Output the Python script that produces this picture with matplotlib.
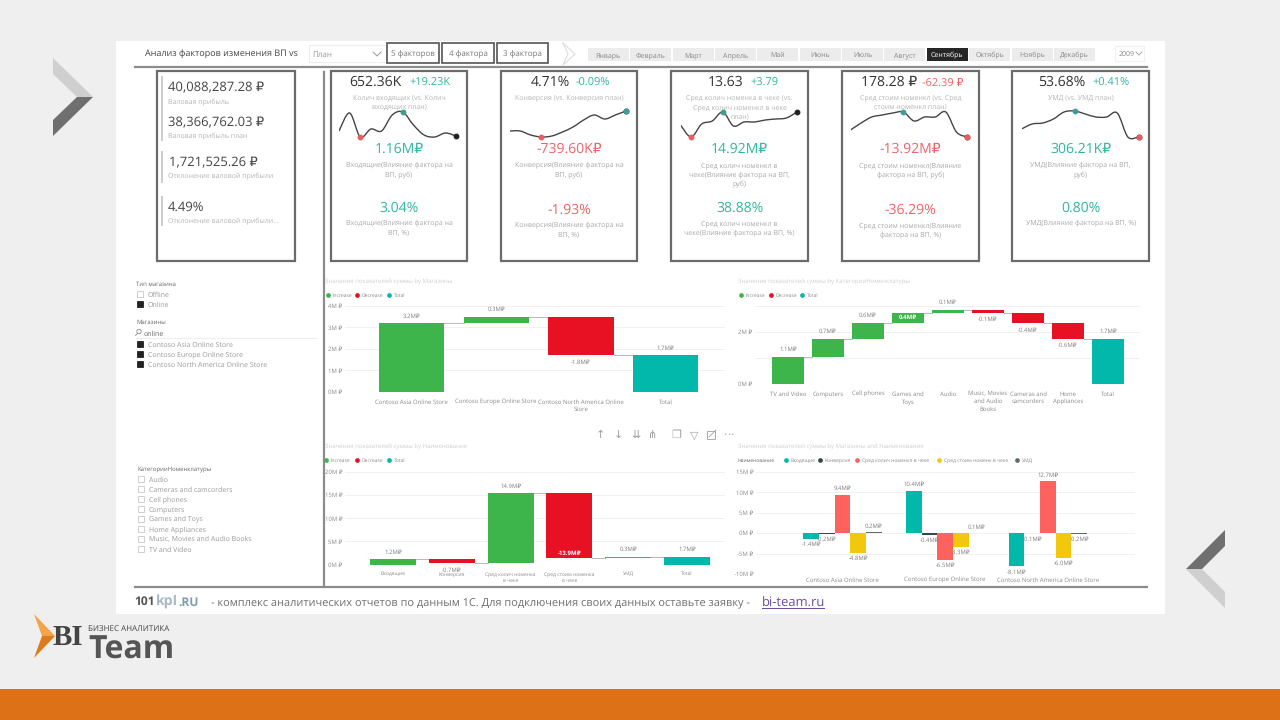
import matplotlib
matplotlib.use("Agg")
import matplotlib.pyplot as plt
from matplotlib.patches import Rectangle, Polygon, PathPatch
from matplotlib.path import Path

plt.rcParams['font.family'] = ['Open Sans', 'DejaVu Sans']
plt.rcParams['text.hinting'] = 'none'
plt.rcParams['text.hinting_factor'] = 1

# --- data ---
months = ["Январь", "Февраль", "Март", "Апрель", "Май", "Июнь", "Июль", "Август",
          "Сентябрь", "Октябрь", "Ноябрь", "Декабрь"]

store_cats = ["Contoso Asia Online Store", "Contoso Europe Online Store",
              "Contoso North America Online\nStore", "Total"]
store_vals = [3.2, 0.29, -1.78, 1.71]
store_labels = ["3.2M₽", "0.3M₽", "-1.8M₽", "1.7M₽"]

cat_cats = ["TV and Video", "Computers", "Cell phones", "Games and\nToys", "Audio",
            "Music, Movies\nand Audio\nBooks", "Cameras and\ncamcorders", "Home\nAppliances", "Total"]
cat_vals = [1.05, 0.7, 0.6, 0.4, 0.1, -0.1, -0.4, -0.6, 1.75]
cat_labels = ["1.1M₽", "0.7M₽", "0.6M₽", "0.4M₽", "0.1M₽", "-0.1M₽", "-0.4M₽", "-0.6M₽", "1.7M₽"]

factor_cats = ["Входящие", "Конверсия", "Сред колич номенка\nв чеке", "Сред стоим номенка\nв чеке", "УМД", "Total"]
factor_vals = [1.16, -0.74, 14.92, -13.92, 0.31, 1.72]
factor_labels = ["1.2M₽", "-0.7M₽", "14.9M₽", "-13.9M₽", "0.3M₽", "1.7M₽"]

group_cats = ["Contoso Asia Online Store", "Contoso Europe Online Store", "Contoso North America Online Store"]
group_names = ["Входящие", "Конверсия", "Сред колич номенкл в чеке", "Сред стоим номенк в чеке", "УМД"]
group_vals = [[-1.4, 10.4, -8.1], [-0.2, -0.4, -0.1], [9.4, -6.5, 12.7], [-4.8, -3.3, -6.0], [0.2, 0.1, -0.2]]
group_labels = [["-1.4M₽", "10.4M₽", "-8.1M₽"], ["-0.2M₽", "-0.4M₽", "-0.1M₽"], ["9.4M₽", "-6.5M₽", "12.7M₽"],
                ["-4.8M₽", "-3.3M₽", "-6.0M₽"], ["0.2M₽", "0.1M₽", "-0.2M₽"]]

spark_1 = [14, 32, 8, 16, 14, 30, 33, 20, 10, 8, 12, 9]
spark_2 = [14, 14, 10, 8, 9, 13, 18, 25, 30, 26, 30, 34]
spark_3 = [20, 8, 21, 24, 33, 19, 23, 23, 25, 26, 27, 33]
spark_4 = [15, 22, 28, 30, 32, 33, 24, 28, 28, 33, 13, 8]
spark_5 = [16, 21, 22, 26, 33, 34, 31, 28, 28, 32, 8, 8]

kpi_main = ["652.36K", "4.71%", "13.63", "178.28 ₽", "53.68%"]
kpi_delta = ["+19.23K", "-0.09%", "+3.79", "-62.39 ₽", "+0.41%"]
kpi_rub = ["1.16M₽", "-739.60K₽", "14.92M₽", "-13.92M₽", "306.21K₽"]
kpi_pct = ["3.04%", "-1.93%", "38.88%", "-36.29%", "0.80%"]

GREEN, RED, TEAL = "#3db54a", "#e81123", "#01b8aa"
GROUP_COLORS = ["#01b8aa", "#374649", "#fd625e", "#f2c80f", "#5f6b6d"]
KPI_UP, KPI_DOWN = "#2fb5a2", "#ef6268"
GREY = "#a9a9a9"
LAB = "#7f7f7f"
CHART_FS = 4.0
LEGEND_FS = 3.7

W, H = 1280, 720
fig = plt.figure(figsize=(W / 100, H / 100), dpi=100, facecolor="#efefef")
bg = fig.add_axes([0, 0, 1, 1])
bg.set_xlim(0, W)
bg.set_ylim(H, 0)
bg.axis("off")


def t(x, y, s, size=6, color=GREY, ha="left", **kw):
    # small nudge so the glyphs sit on the y asked for
    return bg.text(x, y + size * 0.14, s, fontsize=size, color=color, ha=ha, va="center", **kw)


def box(x0, y0, x1, y1, fc="none", ec="none", lw=1.0, z=1):
    bg.add_patch(Rectangle((x0, y0), x1 - x0, y1 - y0, fc=fc, ec=ec, lw=lw, zorder=z))


def px_axes(left, right, top, bottom):
    ax = fig.add_axes([left / W, 1 - bottom / H, (right - left) / W, (bottom - top) / H])
    ax.patch.set_alpha(0)
    for s in ax.spines.values():
        s.set_visible(False)
    return ax


# page furniture
box(116, 41, 1165, 614, fc="white", z=0)
box(0, 689, W, H, fc="#dc7118", z=0)
bg.add_patch(Polygon([(53, 58), (93, 97), (77, 97), (53, 74)], fc="#cfcfcf", ec="none"))
bg.add_patch(Polygon([(93, 97), (53, 136), (53, 120), (77, 97)], fc="#6f6f6f", ec="none"))
bg.add_patch(Polygon([(1225, 530), (1186, 569), (1202, 569), (1225, 546)], fc="#6f6f6f", ec="none"))
bg.add_patch(Polygon([(1186, 569), (1225, 608), (1225, 592), (1202, 569)], fc="#cfcfcf", ec="none"))

# header
bg.plot([135, 1147], [66.7, 66.7], color="#8c8c8c", lw=1.6)
bg.plot([135, 1147], [587, 587], color="#8c8c8c", lw=1.6)
bg.plot([324, 324], [72, 585], color="#8c8c8c", lw=1.6)
t(145, 54, "Анализ факторов изменения ВП vs", 6.4, "#444444")
box(309, 45, 386, 62, ec="#eeeeee", lw=0.8)
t(312, 54, "План", 5.6, "#999999")
bg.plot([373, 377, 381], [52, 56, 52], color="#999999", lw=0.7)
for (x0, x1), s in zip([(387, 439), (442, 494), (497, 548)], ["5 факторов", "4 фактора", "3 фактора"]):
    box(x0, 43, x1, 63, ec="#555555", lw=1.2)
    t((x0 + x1) / 2, 53.5, s, 5.6, "#777777", "center")
bg.plot([563, 575, 563, 568, 563], [43, 54, 65, 54, 43], color="#dddddd", lw=0.8)
for i, m in enumerate(months):
    x0 = 588 + i * 42.35
    on = m == "Сентябрь"
    box(x0, 48, x0 + 41, 61, fc="#262626" if on else "#ececec")
    t(x0 + 20.5, 54.5, m, 5, "white" if on else "#888888", "center")
box(1115, 46, 1144, 61, ec="#f0f0f0", lw=0.8)
t(1119, 53.5, "2009", 5, "#888888")
bg.plot([1136, 1139, 1142], [52, 55, 52], color="#999999", lw=0.6)

# left KPI card
box(157, 70.7, 295, 261, ec="#6b6b6b", lw=1.6)
for y0, y1 in [(77, 140), (152, 182), (197, 225)]:
    bg.plot([162, 162], [y0, y1], color="#cccccc", lw=1.4)
for x, y, s, size, c in [(168, 87, "40,088,287.28 ₽", 9.4, "#444444"), (168, 102, "Валовая прибыль", 5.4, "#b5b5b5"),
                         (168, 122, "38,366,762.03 ₽", 9.4, "#444444"), (168, 136, "Валовая прибыль план", 5.4, "#b5b5b5"),
                         (169, 162, "1,721,525.26 ₽", 9.4, "#444444"), (168, 176, "Отклонение валовой прибыли", 5.4, "#b5b5b5"),
                         (168, 206, "4.49%", 9.4, "#444444"), (168, 221, "Отклонение валовой прибыли...", 5.4, "#b5b5b5")]:
    t(x, y, s, size, c)

# KPI cards with sparklines
cards = [(330.7, 467.3), (500.7, 637.3), (671.3, 808), (842, 978.7), (1012.3, 1149)]
main_x = [349, 531, 708, 861, 1038]
delta_x = [409, 576, 750, 922, 1092]
top_text = [["Колич входящих (vs. Колич", "входящих план)"], ["Конверсия (vs. Конверсия план)"],
            ["Сред колич номенка в чеке (vs.", "Сред колич номенкл в чеке", "план)"],
            ["Сред стоим номенкл (vs. Сред", "стоим номенкл план)"], ["УМД (vs. УМД план)"]]
rub_text = [["Входящие(Влияние фактора на", "ВП, руб)"], ["Конверсия(Влияние фактора на", "ВП, руб)"],
            ["Сред колич номенкл в", "чеке(Влияние фактора на ВП,", "руб)"],
            ["Сред стоим номенкл(Влияние", "фактора на ВП, руб)"], ["УМД(Влияние фактора на ВП,", "руб)"]]
pct_text = [["Входящие(Влияние фактора на", "ВП, %)"], ["Конверсия(Влияние фактора на", "ВП, %)"],
            ["Сред колич номенкл в", "чеке(Влияние фактора на ВП, %)"],
            ["Сред стоим номенкл(Влияние", "фактора на ВП, %)"], ["УМД(Влияние фактора на ВП, %)"]]
sparks = [spark_1, spark_2, spark_3, spark_4, spark_5]
spark_span = [(339, 456), (509.5, 626), (680.5, 797), (850.5, 967), (1021.5, 1138.5)]


def smooth_line(ax, xs, ys):
    # catmull-rom through the points, drawn as a bezier path
    verts, codes = [(xs[0], ys[0])], [Path.MOVETO]
    n = len(xs)
    for i in range(n - 1):
        a, b = max(i - 1, 0), min(i + 2, n - 1)
        verts += [(xs[i] + (xs[i + 1] - xs[a]) / 6, ys[i] + (ys[i + 1] - ys[a]) / 6),
                  (xs[i + 1] - (xs[b] - xs[i]) / 6, ys[i + 1] - (ys[b] - ys[i]) / 6),
                  (xs[i + 1], ys[i + 1])]
        codes += [Path.CURVE4] * 3
    ax.add_patch(PathPatch(Path(verts, codes), fc="none", ec="#444444", lw=1.0))


for i, (x0, x1) in enumerate(cards):
    cx = (x0 + x1) / 2
    box(x0, 70.7, x1, 261, ec="#6b6b6b", lw=1.6)
    t(main_x[i], 81, kpi_main[i], 10.2, "#333333")
    up = not kpi_delta[i].startswith("-") or i == 1
    t(delta_x[i], 82, kpi_delta[i], 7.6, KPI_UP if up else KPI_DOWN)
    for j, line in enumerate(top_text[i]):
        t(cx, 97 + j * 9.6, line, 5.4, "#b5b5b5", "center")
    col = KPI_DOWN if kpi_rub[i].startswith("-") else KPI_UP
    t(cx, 148, kpi_rub[i], 10.4, col, "center")
    for j, line in enumerate(rub_text[i]):
        t(cx, 165 + j * 9.5, line, 5.4, "#a9a9a9", "center")
    dy = 2 if col == KPI_DOWN else 0
    t(cx, 207 + dy, kpi_pct[i], 10.4, col, "center")
    for j, line in enumerate(pct_text[i]):
        t(cx, 223 + dy + j * 9.5, line, 5.4, "#a9a9a9", "center")

    vals = sparks[i]
    ax = px_axes(spark_span[i][0], spark_span[i][1], 105, 145)
    ax.set_xlim(0, 11)
    ax.set_ylim(0, 40)
    ax.set_xticks([])
    ax.set_yticks([])
    xs = list(range(12))
    smooth_line(ax, xs, vals)
    lo = vals.index(min(vals))
    hi = vals.index(max(vals))
    if i == 4:
        lo = 11
    ax.plot(11, vals[11], "o", ms=3.2, color="#222222", clip_on=False)
    ax.plot(hi, vals[hi], "o", ms=3.2, color="#3f9d97", clip_on=False)
    ax.plot(lo, vals[lo], "o", ms=3.2, color="#ef5a60", clip_on=False)

# slicers
t(136, 284, "Тип магазина", 4.6, "#666666")
for y, s, on in [(294, "Offline", False), (304, "Online", True)]:
    box(137, y - 3, 143, y + 3, fc="#222222" if on else "white", ec="#222222" if on else "#c8c8c8", lw=0.6)
    t(147.5, y, s, 5.1, "#9a9a9a")
t(136, 322, "Магазины", 4.6, "#666666")
bg.add_patch(plt.Circle((139, 331.5), 2.2, fc="none", ec="#777777", lw=0.5))
bg.plot([137.5, 135.5], [333.5, 335.5], color="#777777", lw=0.5)
t(144, 333, "online", 4.8, "#666666")
bg.plot([136, 316], [338, 338], color="#eeeeee", lw=0.8)
for y, s in zip([344, 354, 364], ["Contoso Asia Online Store", "Contoso Europe Online Store", "Contoso North America Online Store"]):
    box(136.5, y - 3, 143, y + 3, fc="#222222", ec="#222222", lw=0.6)
    t(147.5, y, s, 5.1, "#9a9a9a")
t(137, 468, "КатегорииНоменклатуры", 4.6, "#666666")
slicer_items = ["Audio", "Cameras and camcorders", "Cell phones", "Computers", "Games and Toys",
                "Home Appliances", "Music, Movies and Audio Books", "TV and Video"]
for i, s in enumerate(slicer_items):
    y = 479 + i * 10
    box(138, y - 3, 144, y + 3, fc="white", ec="#c8c8c8", lw=0.6)
    t(149, y, s, 5.1, "#9a9a9a")

# visual toolbar
for x, s in zip([600, 618, 636, 653, 676, 694, 729], ["↑", "↓", "⇊", "⋔", "❐", "▽", "⋯"]):
    t(x, 434, s, 8, "#a0a0a0", "center", family="DejaVu Sans")
box(707, 431, 715, 439, ec="#a0a0a0", lw=0.6)
bg.plot([709, 716], [437, 430], color="#a0a0a0", lw=0.6)


def legend(items, y):
    for xd, s, c in items:
        bg.plot(xd, y, "o", ms=3.4, color=c, mew=0)
        t(xd + 4.5, y, s, LEGEND_FS, "#888888")


def chart_axes(left, right, top, bottom, c0, step, ylim, ticks, tick_labels, cats, pad, cat_fs=CHART_FS):
    ax = px_axes(left, right, top, bottom)
    ax.set_xlim((left - c0) / step, (right - c0) / step)
    ax.set_ylim(*ylim)
    ax.set_yticks(ticks, tick_labels)
    ax.set_xticks(range(len(cats)), cats)
    ax.tick_params(length=0, labelsize=CHART_FS, labelcolor="#8a8a8a")
    ax.tick_params(axis="x", pad=pad, labelsize=cat_fs)
    ax.tick_params(axis="y", pad=2)
    ax.grid(axis="y", color="#f1f1f1", lw=0.7)
    ax.set_axisbelow(True)
    for lab in ax.get_xticklabels():
        lab.set_linespacing(1.35)
    return ax


def waterfall(ax, vals, labels, width=0.78, inside=()):
    run = 0
    last = len(vals) - 1
    for i, v in enumerate(vals):
        if i == last:
            lo, hi, c = 0, v, TEAL
        else:
            lo, hi = min(run, run + v), max(run, run + v)
            c = GREEN if v >= 0 else RED
            run += v
        ax.bar(i, hi - lo, width, bottom=lo, color=c, zorder=2)
        if i < last:
            ax.plot([i + width / 2, i + 1 - width / 2], [run, run], color="#b9b9b9", lw=0.7, zorder=1)
        if i in inside:
            y = hi - (hi - lo) / 2 if hi - lo < 1 else lo + (hi - lo) * 0.07
            ax.text(i, y, labels[i], fontsize=CHART_FS, color="white", ha="center", va="center", zorder=3, fontweight="bold")
        elif v >= 0:
            ax.annotate(labels[i], (i, hi), xytext=(0, 3), textcoords="offset points", fontsize=CHART_FS,
                        color=LAB, ha="center", va="bottom")
        else:
            ax.annotate(labels[i], (i, lo), xytext=(0, -3), textcoords="offset points", fontsize=CHART_FS,
                        color=LAB, ha="center", va="top")


# top left waterfall
t(325, 281, "Значения показателей суммы by Магазины", 4.4, "#cfcfcf")
legend([(328, "Increase", GREEN), (357, "Decrease", RED), (389, "Total", TEAL)], 295)
ax1 = chart_axes(345, 725, 306, 392, 411.5, 84.7, (0, 4), [0, 1, 2, 3, 4],
                 ["0M ₽", "1M ₽", "2M ₽", "3M ₽", "4M ₽"], store_cats, 5)
waterfall(ax1, store_vals, store_labels, 0.77)

# top right waterfall
t(738, 281, "Значения показателей суммы by КатегорииНоменклатуры", 4.4, "#cfcfcf")
legend([(741, "Increase", GREEN), (771, "Decrease", RED), (802, "Total", TEAL)], 295)
ax2 = chart_axes(755, 1140, 306, 384, 788, 40, (0, 3), [0, 1, 2, 3],
                 ["0M ₽", "", "2M ₽", ""], cat_cats, 5)
waterfall(ax2, cat_vals, cat_labels, 0.78, inside=(3,))

# bottom left waterfall
t(325, 446, "Значения показателей суммы by Наименование", 4.4, "#cfcfcf")
legend([(326, "Increase", GREEN), (357, "Decrease", RED), (389, "Total", TEAL)], 460)
ax3 = chart_axes(345, 725, 471.7, 564.7, 393, 58.8, (0, 20), [0, 5, 10, 15, 20],
                 ["0M ₽", "5M ₽", "10M ₽", "15M ₽", "20M ₽"], factor_cats, 5, 3.6)
waterfall(ax3, factor_vals, factor_labels, 0.78, inside=(3,))

# bottom right clustered columns
t(738, 446, "Значения показателей суммы by Магазины and Наименование", 4.4, "#cfcfcf")
t(738, 460, "Наименование", LEGEND_FS, "#666666")
legend([(x, s, c) for x, s, c in zip([786, 820, 857, 939, 1017], group_names, GROUP_COLORS)], 460)
ax4 = chart_axes(756, 1135, 471.7, 574, 842.5, 102.7, (-10, 15), [-10, -5, 0, 5, 10, 15],
                 ["-10M ₽", "-5M ₽", "0M ₽", "5M ₽", "10M ₽", "15M ₽"], group_cats, 2.5)
bar_w = 0.152
for k, name in enumerate(group_names):
    for g, v in enumerate(group_vals[k]):
        x = g + (k - 2) * bar_w
        ax4.bar(x, v, bar_w, color=GROUP_COLORS[k], zorder=2)
        off, va = (2, "bottom") if v >= 0 else (-2, "top")
        ax4.annotate(group_labels[k][g], (x, v), xytext=(0, off), textcoords="offset points",
                     fontsize=CHART_FS, color=LAB, ha="center", va=va, zorder=3)

# footer
t(134, 601, "101", 8.8, "#555555", fontweight="bold")
t(155.5, 601, "kpI", 9.8, "#a5bac6", fontweight="bold")
t(178, 601, ".RU", 8.8, "#7f9bad", fontweight="bold")
t(211, 602, "- комплекс аналитических отчетов по данным 1С. Для подключения своих данных оставьте заявку - ", 8, "#6f6f6f")
t(762, 602, "bi-team.ru", 9, "#6a4aa0")
bg.plot([762, 824], [608, 608], color="#6a4aa0", lw=0.7)

# logo
bg.add_patch(Polygon([(34, 614), (55, 636), (42, 636)], fc="#f3a348", ec="none"))
bg.add_patch(Polygon([(34, 658), (55, 636), (42, 636)], fc="#dd7a1c", ec="none"))
t(53, 636, "BI", 21, "#444444", family=["Liberation Serif"], fontweight="bold")
t(88, 628, "БИЗНЕС АНАЛИТИКА", 5.8, "#444444")
t(88, 647, "Team", 23, "#555555", fontweight="bold")

fig.savefig("out.png", dpi=100, facecolor=fig.get_facecolor())
